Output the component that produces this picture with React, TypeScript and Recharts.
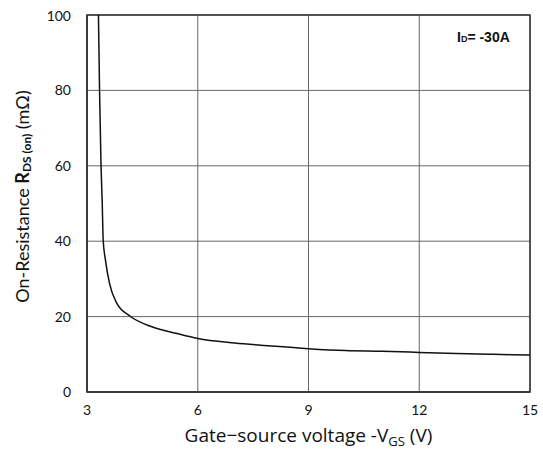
import { LineChart, Line, XAxis, YAxis, CartesianGrid, ReferenceArea } from 'recharts';

const vgs = [3.31, 3.34, 3.38, 3.41, 3.44, 3.5, 3.61, 3.81, 4.17, 4.76, 5.44, 6.0, 7.0, 8.0, 9.0, 10.0, 11.0, 12.0, 13.0, 14.0, 15.0];
const rds = [100, 80, 60, 51, 40, 35, 28.8, 23.5, 20.1, 17.3, 15.5, 14.2, 13.0, 12.2, 11.5, 11.0, 10.8, 10.5, 10.2, 10.0, 9.8];
const xTicks = [3, 6, 9, 12, 15];
const yTicks = [0, 20, 40, 60, 80, 100];

const data = vgs.map((v, i) => ({ v, r: rds[i] }));

const FONT = 'Lato, "Noto Sans", sans-serif';

function YTitle(props: any) {
  const { viewBox } = props;
  const cx = 14;
  const cy = viewBox.y + viewBox.height / 2 - 7;
  return (
    <text
      x={cx}
      y={cy}
      transform={`rotate(-90 ${cx} ${cy})`}
      textAnchor="middle"
      dominantBaseline="central"
      fontFamily={FONT}
      fontSize={18}
      fill="#111"
    >
      On-Resistance{'  '}
      <tspan fontWeight="bold">R</tspan>
      <tspan fontWeight="bold" fontSize={12} dy={4}>DS (on)</tspan>
      <tspan dy={-4}> (mΩ)</tspan>
    </text>
  );
}

function XTitle(props: any) {
  const { viewBox } = props;
  const cx = viewBox.x + viewBox.width / 2;
  return (
    <text x={cx} y={434} textAnchor="middle" fontFamily='"Open Sans", sans-serif' fontSize={19} fill="#111">
      Gate−source voltage -V
      <tspan fontSize={13} dy={4}>GS</tspan>
      <tspan dy={-4}> (V)</tspan>
    </text>
  );
}

export default function App() {
  return (
    <div
      style={{
        position: 'relative',
        width: 543,
        height: 452,
        boxSizing: 'border-box',
        padding: '8px 0 0 8px',
        overflow: 'hidden',
        background: '#fff',
      }}
    >
      <style>{'body { margin: 0; }'}</style>
      <LineChart width={535} height={444} data={data} margin={{ top: 7, right: 13, bottom: 0, left: 20 }}>
        <CartesianGrid stroke="#666" strokeWidth={1} />
        <XAxis
          dataKey="v"
          type="number"
          domain={[3, 15]}
          ticks={xTicks}
          interval={0}
          height={60}
          tickLine={false}
          tickSize={0}
          tickMargin={13}
          axisLine={{ stroke: '#333', strokeWidth: 1.5 }}
          tick={{ fontFamily: FONT, fontSize: 14, fill: '#111' }}
          label={<XTitle />}
        />
        <YAxis
          type="number"
          domain={[0, 100]}
          ticks={yTicks}
          allowDataOverflow
          width={59}
          tickLine={false}
          tickSize={0}
          tickMargin={16}
          axisLine={{ stroke: '#333', strokeWidth: 1.5 }}
          tick={{ fontFamily: FONT, fontSize: 14, fill: '#111' }}
          label={<YTitle />}
        />
        <ReferenceArea x1={3} x2={15} y1={0} y2={100} fill="none" stroke="#333" strokeWidth={1.5} ifOverflow="visible" />
        <Line
          type="monotone"
          dataKey="r"
          stroke="#111"
          strokeWidth={1.5}
          dot={false}
          isAnimationActive={false}
        />
      </LineChart>
      <div
        style={{
          position: 'absolute',
          left: 457,
          top: 29,
          fontFamily: '"Liberation Sans", Arial, sans-serif',
          fontSize: 14,
          fontWeight: 'bold',
          color: '#111',
          whiteSpace: 'nowrap',
        }}
      >
        I<span style={{ fontSize: 9 }}>D</span>= -30A
      </div>
    </div>
  );
}
